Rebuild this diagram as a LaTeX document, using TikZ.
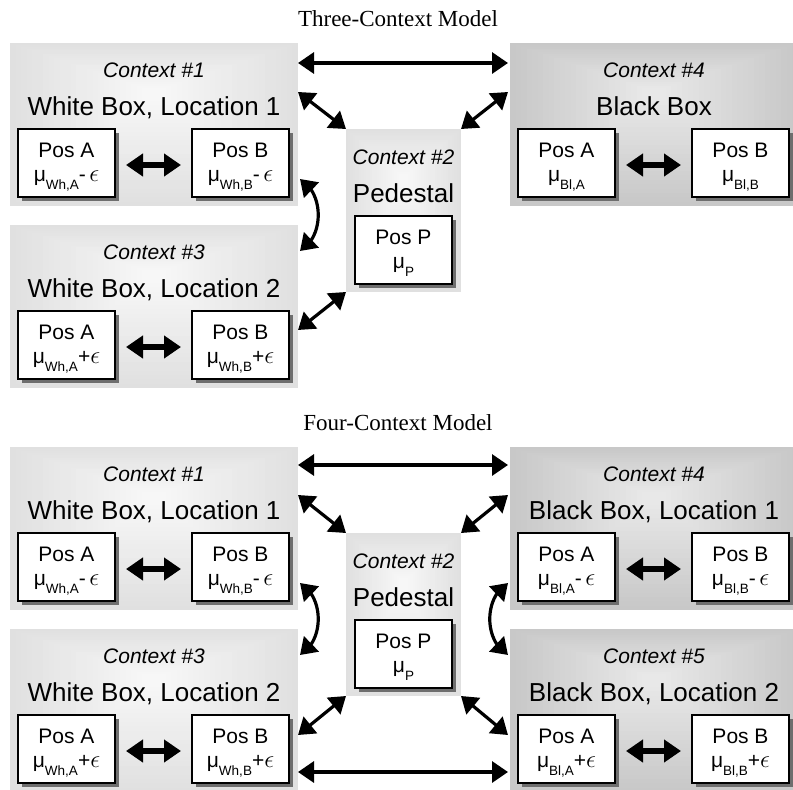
\documentclass[tikz,border=0pt]{standalone}
\usepackage{fontspec}
\setmainfont{Liberation Serif}
\newfontfamily\helv{Liberation Sans}
\usetikzlibrary{arrows.meta,calc,shadows,bending}

\definecolor{wbout}{HTML}{E0E0E0}
\definecolor{wbin}{HTML}{F7F7F7}
\definecolor{bbout}{HTML}{C8C8C8}
\definecolor{bbin}{HTML}{E8E8E8}
\definecolor{shadowgray}{HTML}{6E6E6E}

% lowered subscript and epsilon used in the position values
\newcommand\lowsub[1]{\raisebox{-8pt}{\fontsize{13.5}{13.5}\selectfont #1}}
\newcommand\myeps{{\fontsize{24}{24}\selectfont$\epsilon$}}

% white position box with its two text lines
\newcommand\posbox[4]{%
  \node[posframe] (#1) at #2 {};
  \node[postitle] (#1-t) at ($(#1.center)+(0,5.5)$) {#3};
  \node[posval] (#1-v) at ($(#1.center)+(0,-18)$) {#4};
}

\tikzset{
  ctxgrad/.style 2 args={path picture={
      \coordinate (gf) at ($(path picture bounding box.north)!0.3!(path picture bounding box.south)$);
      \foreach \k in {0,...,24}{
        \pgfmathsetmacro\gradt{0.92*\k/24}
        \pgfmathtruncatemacro\gradp{100*\k/24}
        \fill[#2!\gradp!#1]
          ($(path picture bounding box.north west)!\gradt!(gf)$) rectangle
          ($(path picture bounding box.south east)!\gradt!(gf)$);
      }
  }},
  ctx/.style={rectangle, inner sep=0pt, outer sep=0pt, minimum width=288pt,
    minimum height=163pt, anchor=north west},
  pedbox/.style={rectangle, inner sep=0pt, outer sep=0pt, minimum width=115pt,
    minimum height=163pt, anchor=north west},
  posframe/.style={rectangle, draw=black, line width=1.1pt, fill=white,
    minimum width=97pt, minimum height=68pt, inner sep=0pt, outer sep=0pt,
    anchor=north west,
    drop shadow={shadow xshift=4pt, shadow yshift=-4pt, fill=shadowgray, opacity=1}},
  titletext/.style={font=\fontsize{23}{23}\selectfont, anchor=base, inner sep=0pt},
  ctxno/.style={font=\helv\itshape\fontsize{21}{21}\selectfont, anchor=base, inner sep=0pt},
  ctxname/.style={font=\helv\fontsize{26}{26}\selectfont, anchor=base, inner sep=0pt},
  postitle/.style={font=\helv\fontsize{21}{21}\selectfont, anchor=base, inner sep=0pt},
  posval/.style={font=\helv\fontsize{21}{21}\selectfont, anchor=base, inner sep=0pt},
  bigarrow/.style={line width=3.2pt,
    {Triangle[length=16pt,width=21pt]}-{Triangle[length=16pt,width=21pt]}},
  posarrow/.style={line width=5.5pt,
    {Triangle[length=17pt,width=22pt]}-{Triangle[length=17pt,width=22pt]},
    shorten <=11pt, shorten >=11pt},
}

\begin{document}
\begin{tikzpicture}[x=1pt,y=1pt]
\useasboundingbox (0,0) rectangle (793,-790);

% ---------------- Three-Context Model ----------------
\node[titletext] (ttl3) at (398,-26) {Three-Context Model};

\node[ctx, ctxgrad={wbout}{wbin}] (tc1) at (10,-43) {};
\node[ctx, ctxgrad={wbout}{wbin}] (tc3) at (10,-225) {};
\node[pedbox, ctxgrad={wbout}{wbin}] (tped) at (346,-129) {};
\node[ctx, ctxgrad={bbout}{bbin}] (tc4) at (510,-43) {};

\node[ctxno] (tc1-no) at ($(tc1.north)+(0,-34)$) {Context \#1};
\node[ctxname] (tc1-nm) at ($(tc1.north)+(0,-72)$) {White Box, Location 1};
\posbox{tc1a}{($(tc1.north west)+(8,-86)$)}{Pos A}{μ\lowsub{Wh,A}-\,\myeps}
\posbox{tc1b}{($(tc1.north west)+(182,-86)$)}{Pos B}{μ\lowsub{Wh,B}-\,\myeps}
\draw[posarrow] ([yshift=-2pt]tc1a.east) -- ([yshift=-2pt]tc1b.west);

\node[ctxno] (tc3-no) at ($(tc3.north)+(0,-34)$) {Context \#3};
\node[ctxname] (tc3-nm) at ($(tc3.north)+(0,-72)$) {White Box, Location 2};
\posbox{tc3a}{($(tc3.north west)+(8,-86)$)}{Pos A}{μ\lowsub{Wh,A}+\myeps}
\posbox{tc3b}{($(tc3.north west)+(182,-86)$)}{Pos B}{μ\lowsub{Wh,B}+\myeps}
\draw[posarrow] ([yshift=-2pt]tc3a.east) -- ([yshift=-2pt]tc3b.west);

\node[ctxno] (tped-no) at ($(tped.north)+(0,-35)$) {Context \#2};
\node[ctxname] (tped-nm) at ($(tped.north)+(0,-73)$) {Pedestal};
\posbox{tpp}{($(tped.north west)+(9,-87)$)}{Pos P}{μ\lowsub{P}}

\node[ctxno] (tc4-no) at ($(tc4.north)+(0,-34)$) {Context \#4};
\node[ctxname] (tc4-nm) at ($(tc4.north)+(0,-72)$) {Black Box};
\posbox{tc4a}{($(tc4.north west)+(8,-86)$)}{Pos A}{μ\lowsub{Bl,A}}
\posbox{tc4b}{($(tc4.north west)+(182,-86)$)}{Pos B}{μ\lowsub{Bl,B}}
\draw[posarrow] ([yshift=-2pt]tc4a.east) -- ([yshift=-2pt]tc4b.west);

\draw[bigarrow] ($(tc1.north east)+(0,-20)$) -- ($(tc4.north west)+(-2,-20)$);
\draw[bigarrow] ($(tc1.north east)+(0,-49)$) -- (tped.north west);
\draw[bigarrow] (tped.north east) -- ($(tc4.north west)+(-2,-49)$);
\draw[bigarrow] ($(tc1.south east)+(2,27)$) to[bend left=60] ($(tc3.north east)+(2,-26)$);
\draw[bigarrow] (tped.south west) -- ($(tc3.north east)+(0,-105)$);

% ---------------- Four-Context Model ----------------
\node[titletext] (ttl4) at (398,-430) {Four-Context Model};

\node[ctx, ctxgrad={wbout}{wbin}] (fc1) at (10,-447) {};
\node[ctx, ctxgrad={wbout}{wbin}] (fc3) at (10,-629) {};
\node[pedbox, ctxgrad={wbout}{wbin}] (fped) at (346,-533) {};
\node[ctx, ctxgrad={bbout}{bbin}] (fc4) at (510,-447) {};
\node[ctx, ctxgrad={bbout}{bbin}] (fc5) at (510,-629) {};

\node[ctxno] (fc1-no) at ($(fc1.north)+(0,-34)$) {Context \#1};
\node[ctxname] (fc1-nm) at ($(fc1.north)+(0,-72)$) {White Box, Location 1};
\posbox{fc1a}{($(fc1.north west)+(8,-86)$)}{Pos A}{μ\lowsub{Wh,A}-\,\myeps}
\posbox{fc1b}{($(fc1.north west)+(182,-86)$)}{Pos B}{μ\lowsub{Wh,B}-\,\myeps}
\draw[posarrow] ([yshift=-2pt]fc1a.east) -- ([yshift=-2pt]fc1b.west);

\node[ctxno] (fc3-no) at ($(fc3.north)+(0,-34)$) {Context \#3};
\node[ctxname] (fc3-nm) at ($(fc3.north)+(0,-72)$) {White Box, Location 2};
\posbox{fc3a}{($(fc3.north west)+(8,-86)$)}{Pos A}{μ\lowsub{Wh,A}+\myeps}
\posbox{fc3b}{($(fc3.north west)+(182,-86)$)}{Pos B}{μ\lowsub{Wh,B}+\myeps}
\draw[posarrow] ([yshift=-2pt]fc3a.east) -- ([yshift=-2pt]fc3b.west);

\node[ctxno] (fped-no) at ($(fped.north)+(0,-35)$) {Context \#2};
\node[ctxname] (fped-nm) at ($(fped.north)+(0,-73)$) {Pedestal};
\posbox{fpp}{($(fped.north west)+(9,-87)$)}{Pos P}{μ\lowsub{P}}

\node[ctxno] (fc4-no) at ($(fc4.north)+(0,-34)$) {Context \#4};
\node[ctxname] (fc4-nm) at ($(fc4.north)+(0,-72)$) {Black Box, Location 1};
\posbox{fc4a}{($(fc4.north west)+(8,-86)$)}{Pos A}{μ\lowsub{Bl,A}-\,\myeps}
\posbox{fc4b}{($(fc4.north west)+(182,-86)$)}{Pos B}{μ\lowsub{Bl,B}-\,\myeps}
\draw[posarrow] ([yshift=-2pt]fc4a.east) -- ([yshift=-2pt]fc4b.west);

\node[ctxno] (fc5-no) at ($(fc5.north)+(0,-34)$) {Context \#5};
\node[ctxname] (fc5-nm) at ($(fc5.north)+(0,-72)$) {Black Box, Location 2};
\posbox{fc5a}{($(fc5.north west)+(8,-86)$)}{Pos A}{μ\lowsub{Bl,A}+\myeps}
\posbox{fc5b}{($(fc5.north west)+(182,-86)$)}{Pos B}{μ\lowsub{Bl,B}+\myeps}
\draw[posarrow] ([yshift=-2pt]fc5a.east) -- ([yshift=-2pt]fc5b.west);

\draw[bigarrow] ($(fc1.north east)+(0,-18)$) -- ($(fc4.north west)+(-2,-18)$);
\draw[bigarrow] ($(fc1.north east)+(0,-48)$) -- (fped.north west);
\draw[bigarrow] (fped.north east) -- ($(fc4.north west)+(-2,-48)$);
\draw[bigarrow] ($(fc1.south east)+(2,27)$) to[bend left=60] ($(fc3.north east)+(2,-26)$);
\draw[bigarrow] ($(fc4.south west)+(-2,27)$) to[bend right=60] ($(fc5.north west)+(-2,-26)$);
\draw[bigarrow] (fped.south west) -- ($(fc3.north east)+(0,-106)$);
\draw[bigarrow] (fped.south east) -- ($(fc5.north west)+(-2,-106)$);
\draw[bigarrow] ($(fc3.north east)+(0,-143)$) -- ($(fc5.north west)+(-2,-143)$);
\end{tikzpicture}
\end{document}
